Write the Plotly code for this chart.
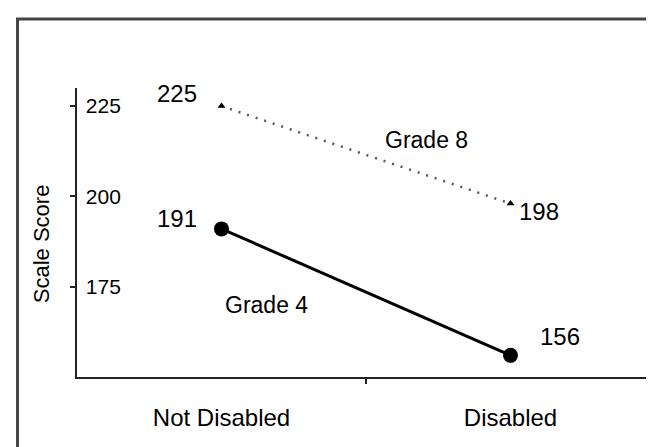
import plotly.graph_objects as go

categories = ["Not Disabled", "Disabled"]
grade8 = [225, 198]
grade4 = [191, 156]
y_ticks = [175, 200, 225]
y_tick_labels = ["175", "200", "225"]

FONT = "Liberation Sans, Arial, sans-serif"

fig = go.Figure()
fig.add_trace(go.Scatter(
    x=categories, y=grade8, mode="lines+markers", name="Grade 8",
    line=dict(color="#555555", width=2.5, dash="2px,7px"),
    marker=dict(symbol="triangle-up", size=7, color="#000000"),
))
fig.add_trace(go.Scatter(
    x=categories, y=grade4, mode="lines+markers", name="Grade 4",
    line=dict(color="#000000", width=3),
    marker=dict(symbol="circle", size=15, color="#000000"),
))

# value labels
label_offsets = {
    ("g8", 0): (-45, 13), ("g8", 1): (28, -8),
    ("g4", 0): (-45, 10), ("g4", 1): (49, 19),
}
for i, c in enumerate(categories):
    dx, dy = label_offsets[("g8", i)]
    fig.add_annotation(x=c, y=grade8[i], text=str(grade8[i]), showarrow=False,
                       xanchor="center", yanchor="middle",
                       xshift=dx, yshift=dy, font=dict(family=FONT, size=24, color="#000"))
    dx, dy = label_offsets[("g4", i)]
    fig.add_annotation(x=c, y=grade4[i], text=str(grade4[i]), showarrow=False,
                       xanchor="center", yanchor="middle",
                       xshift=dx, yshift=dy, font=dict(family=FONT, size=24, color="#000"))

fig.add_annotation(xref="paper", yref="paper", x=0.604, y=0.82, text="Grade 8",
                   xanchor="center", yanchor="middle",
                   showarrow=False, font=dict(family=FONT, size=23, color="#000"))
fig.add_annotation(xref="paper", yref="paper", x=0.327, y=0.249, text="Grade 4",
                   xanchor="center", yanchor="middle",
                   showarrow=False, font=dict(family=FONT, size=23, color="#000"))

# y axis title
fig.add_annotation(xref="paper", yref="paper", x=-0.062, y=0.46, text="Scale Score",
                   xanchor="center", yanchor="middle",
                   textangle=-90, showarrow=False, font=dict(family=FONT, size=22, color="#000"))

# outer frame
fig.add_shape(type="rect", xref="paper", yref="paper",
              x0=-0.1029, y0=-0.4, x1=1.05, y1=1.2388,
              line=dict(color="#444444", width=3), fillcolor="rgba(0,0,0,0)")

fig.update_xaxes(
    type="category", categoryorder="array", categoryarray=categories,
    range=[-0.5, 1.5], tickson="boundaries", ticks="outside", ticklen=5,
    tickwidth=2, tickcolor="#222", showline=True, linecolor="#222", linewidth=2,
    showgrid=False, zeroline=False, ticklabelstandoff=18, automargin=False,
    tickfont=dict(family=FONT, size=24, color="#000"),
)
fig.update_yaxes(
    range=[150, 230], tickvals=y_ticks, ticktext=y_tick_labels,
    ticks="outside", ticklen=5, tickwidth=2, tickcolor="#222",
    ticklabelposition="inside", ticklabelstandoff=10, automargin=False,
    showline=True, linecolor="#222", linewidth=2, showgrid=False, zeroline=False,
    tickfont=dict(family=FONT, size=21, color="#000"),
)
fig.update_layout(
    template="none",
    width=654, height=447, showlegend=False,
    margin=dict(l=69, r=7, t=80, b=78, autoexpand=False),
    plot_bgcolor="white", paper_bgcolor="white",
    font=dict(family=FONT),
)
fig.write_html("out.html")
